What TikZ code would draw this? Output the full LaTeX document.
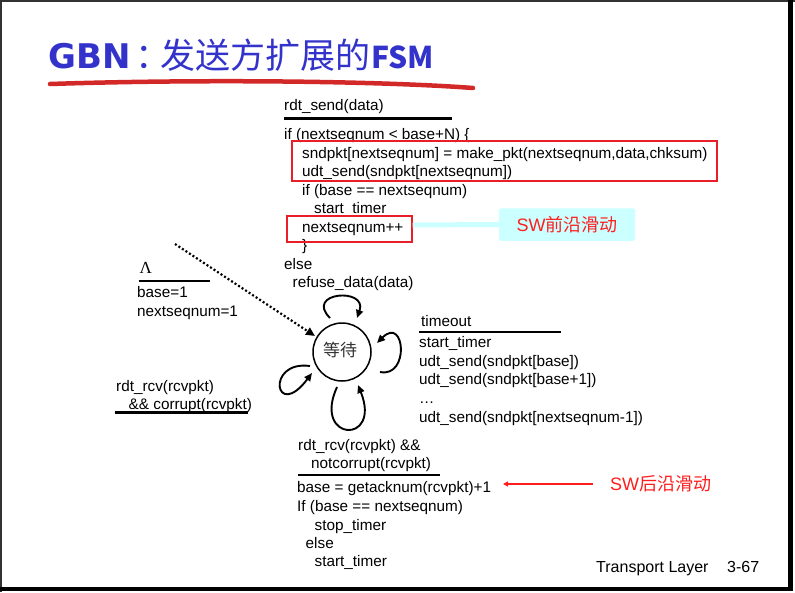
\documentclass[tikz,border=0pt]{standalone}
\usepackage{fontspec}
\setmainfont{Liberation Sans}
\newfontfamily\cjk{Noto Sans CJK SC}
\newfontfamily\widebold{DejaVu Sans}
\newfontfamily\lamfont{Liberation Serif}
\usetikzlibrary{arrows.meta}

\definecolor{titleblue}{RGB}{51,51,204}
\definecolor{brushred}{RGB}{210,40,40}
\definecolor{boxred}{RGB}{232,30,40}
\definecolor{labelred}{RGB}{255,30,30}
\definecolor{palecyan}{RGB}{204,255,255}
\definecolor{framegray}{RGB}{50,50,50}

\begin{document}
\begin{tikzpicture}[x=1pt,y=-1pt,
  code/.style={anchor=base west,inner sep=0pt,font=\fontsize{15.3}{18}\selectfont},
  guardline/.style={line width=2.4pt},
  hilite/.style={draw=boxred,line width=2pt},
  selfloop/.style={line width=1.9pt,-{Triangle[length=8pt,width=7pt]}},
  swlabel/.style={inner sep=0pt,text=labelred,font=\fontsize{18}{20}\selectfont}]

\useasboundingbox (0,0) rectangle (795,592);
\fill[white] (0,0) rectangle (795,592);

% slide frame
\draw[framegray,line width=1.5pt] (0,0.75) -- (795,0.75);
\draw[framegray,line width=2pt] (1,0) -- (1,592);
\draw[black,line width=4.5pt] (790.5,0) -- (790.5,591);
\draw[black,line width=4pt] (0,589) -- (793,589);

% title
\node[anchor=base west,inner sep=0pt,text=titleblue,font=\widebold\bfseries\fontsize{34}{40}\selectfont] (tgbn) at (48,68.5) {GBN};
\node[anchor=base west,inner sep=0pt,text=titleblue,font=\cjk\fontsize{35}{40}\selectfont] (tcolon) at (135,68.5) {：};
\node[anchor=base west,inner sep=0pt,text=titleblue,font=\cjk\fontsize{35}{40}\selectfont] (tcn) at (160,68.5) {发送方扩展的};
\node[anchor=base west,inner sep=0pt,text=titleblue,font=\cjk\bfseries\fontsize{30}{36}\selectfont] (tfsm) at (371,68.5) {FSM};
\draw[brushred,line width=4.5pt,line cap=round] (50,84) .. controls (200,79) and (380,81) .. (473,88);

% send transition
\node[code] (snd) at (284,110.5) {rdt\_send(data)};
\draw[guardline] (284,118.3) -- (452,118.3);
\node[code] (s1) at (284,139.3) {if (nextseqnum < base+N) \{};
\node[code] (s2) at (302,158) {sndpkt[nextseqnum] = make\_pkt(nextseqnum,data,chksum)};
\node[code] (s3) at (302,176.7) {udt\_send(sndpkt[nextseqnum])};
\node[code] (s4) at (302,195.3) {if (base == nextseqnum)};
\node[code] (s5) at (314,213.5) {start\_timer};
\node[code] (s6) at (302,232) {nextseqnum++};
\node[code] (s7) at (302,250.5) {\}};
\node[code] (s8) at (284,269) {else};
\node[code] (s9) at (292.5,287.5) {refuse\_data(data)};
\draw[hilite] (291.7,140.7) rectangle (716.7,180.7);
\draw[hilite] (286.7,215.7) rectangle (411.7,241.7);
\coordinate (hlend) at (412.7,225);

% front-edge label
\node[fill=palecyan,rounded corners=2pt,minimum width=136pt,minimum height=32.5pt,inner sep=0pt] (swfront) at (567,224.5) {};
\node[swlabel] (swfronttext) at (567,225) {SW{\cjk 前沿滑动}};
\draw[palecyan,line width=5pt] (hlend) -- (swfront.west);

% initial transition
\node[anchor=base west,inner sep=0pt,font=\lamfont\fontsize{17}{20}\selectfont] (lam) at (139.5,273.3) {Λ};
\draw[guardline] (138.5,280.7) -- (209.5,280.7);
\node[code] (i1) at (137,297.7) {base=1};
\node[code] (i2) at (137,316) {nextseqnum=1};
\coordinate (initstart) at (175,244);

% wait state
\node[draw,circle,line width=1.5pt,minimum size=58pt,inner sep=0pt] (wait) at (342,352) {};
\node[inner sep=0pt,text=black!80,font=\cjk\fontsize{17}{20}\selectfont] (waittext) at (340,350) {等待};
\coordinate (initend) at (315,336);
\draw[line width=2.2pt,dash pattern=on 2pt off 2.2pt,-{Triangle[length=9pt,width=8pt]}] (initstart) -- (initend);

% self loops around the wait state
\coordinate (ta) at (330,318);   \coordinate (tb) at (357,318);
\coordinate (ra) at (380,372);   \coordinate (rb) at (377,343);
\coordinate (ba) at (337,387);   \coordinate (bb) at (358,385);
\coordinate (la) at (310,366);   \coordinate (lb) at (312,373);
\draw[selfloop] (ta) .. controls (304,292) and (368,287) .. (tb);
\draw[selfloop] (ra) .. controls (410,378) and (405,315) .. (rb);
\draw[selfloop] (ba) .. controls (312,442) and (382,445) .. (bb);
\draw[selfloop] (la) .. controls (265,360) and (275,422) .. (lb);

% timeout transition
\node[code] (t0) at (421,326.7) {timeout};
\draw[guardline] (419,331.7) -- (561,331.7);
\node[code] (t1) at (419,347.3) {start\_timer};
\node[code] (t2) at (419,366) {udt\_send(sndpkt[base])};
\node[code] (t3) at (419,384.7) {udt\_send(sndpkt[base+1])};
\node[code] (t4) at (419,403.3) {…};
\node[code] (t5) at (419,422) {udt\_send(sndpkt[nextseqnum-1])};

% corrupt ack
\node[code] (c1) at (116,391) {rdt\_rcv(rcvpkt)};
\node[code] (c2) at (128.5,409) {\&\& corrupt(rcvpkt)};
\draw[guardline] (115,412.3) -- (248,412.3);

% good ack
\node[code] (a1) at (298,450.7) {rdt\_rcv(rcvpkt) \&\&};
\node[code] (a2) at (311,468.7) {notcorrupt(rcvpkt)};
\draw[guardline] (298,475) -- (440,475);
\node[code] (a3) at (297,492.7) {base = getacknum(rcvpkt)+1};
\node[code] (a4) at (297,511.3) {If (base == nextseqnum)};
\node[code] (a5) at (314.5,530) {stop\_timer};
\node[code] (a6) at (305.5,548.3) {else};
\node[code] (a7) at (314.5,566.7) {start\_timer};

% rear-edge label
\node[swlabel,anchor=base west] (swback) at (610,490) {SW{\cjk 后沿滑动}};
\coordinate (backend) at (503,484);
\draw[labelred,line width=2pt,-{Triangle[length=5pt,width=5pt]}] (593,484) -- (backend);

% footer
\node[anchor=base west,inner sep=0pt,font=\fontsize{16}{18}\selectfont] (foot) at (596,572.7) {Transport Layer};
\node[anchor=base west,inner sep=0pt,font=\fontsize{16}{18}\selectfont] (page) at (727,572.7) {3-67};
\end{tikzpicture}
\end{document}
